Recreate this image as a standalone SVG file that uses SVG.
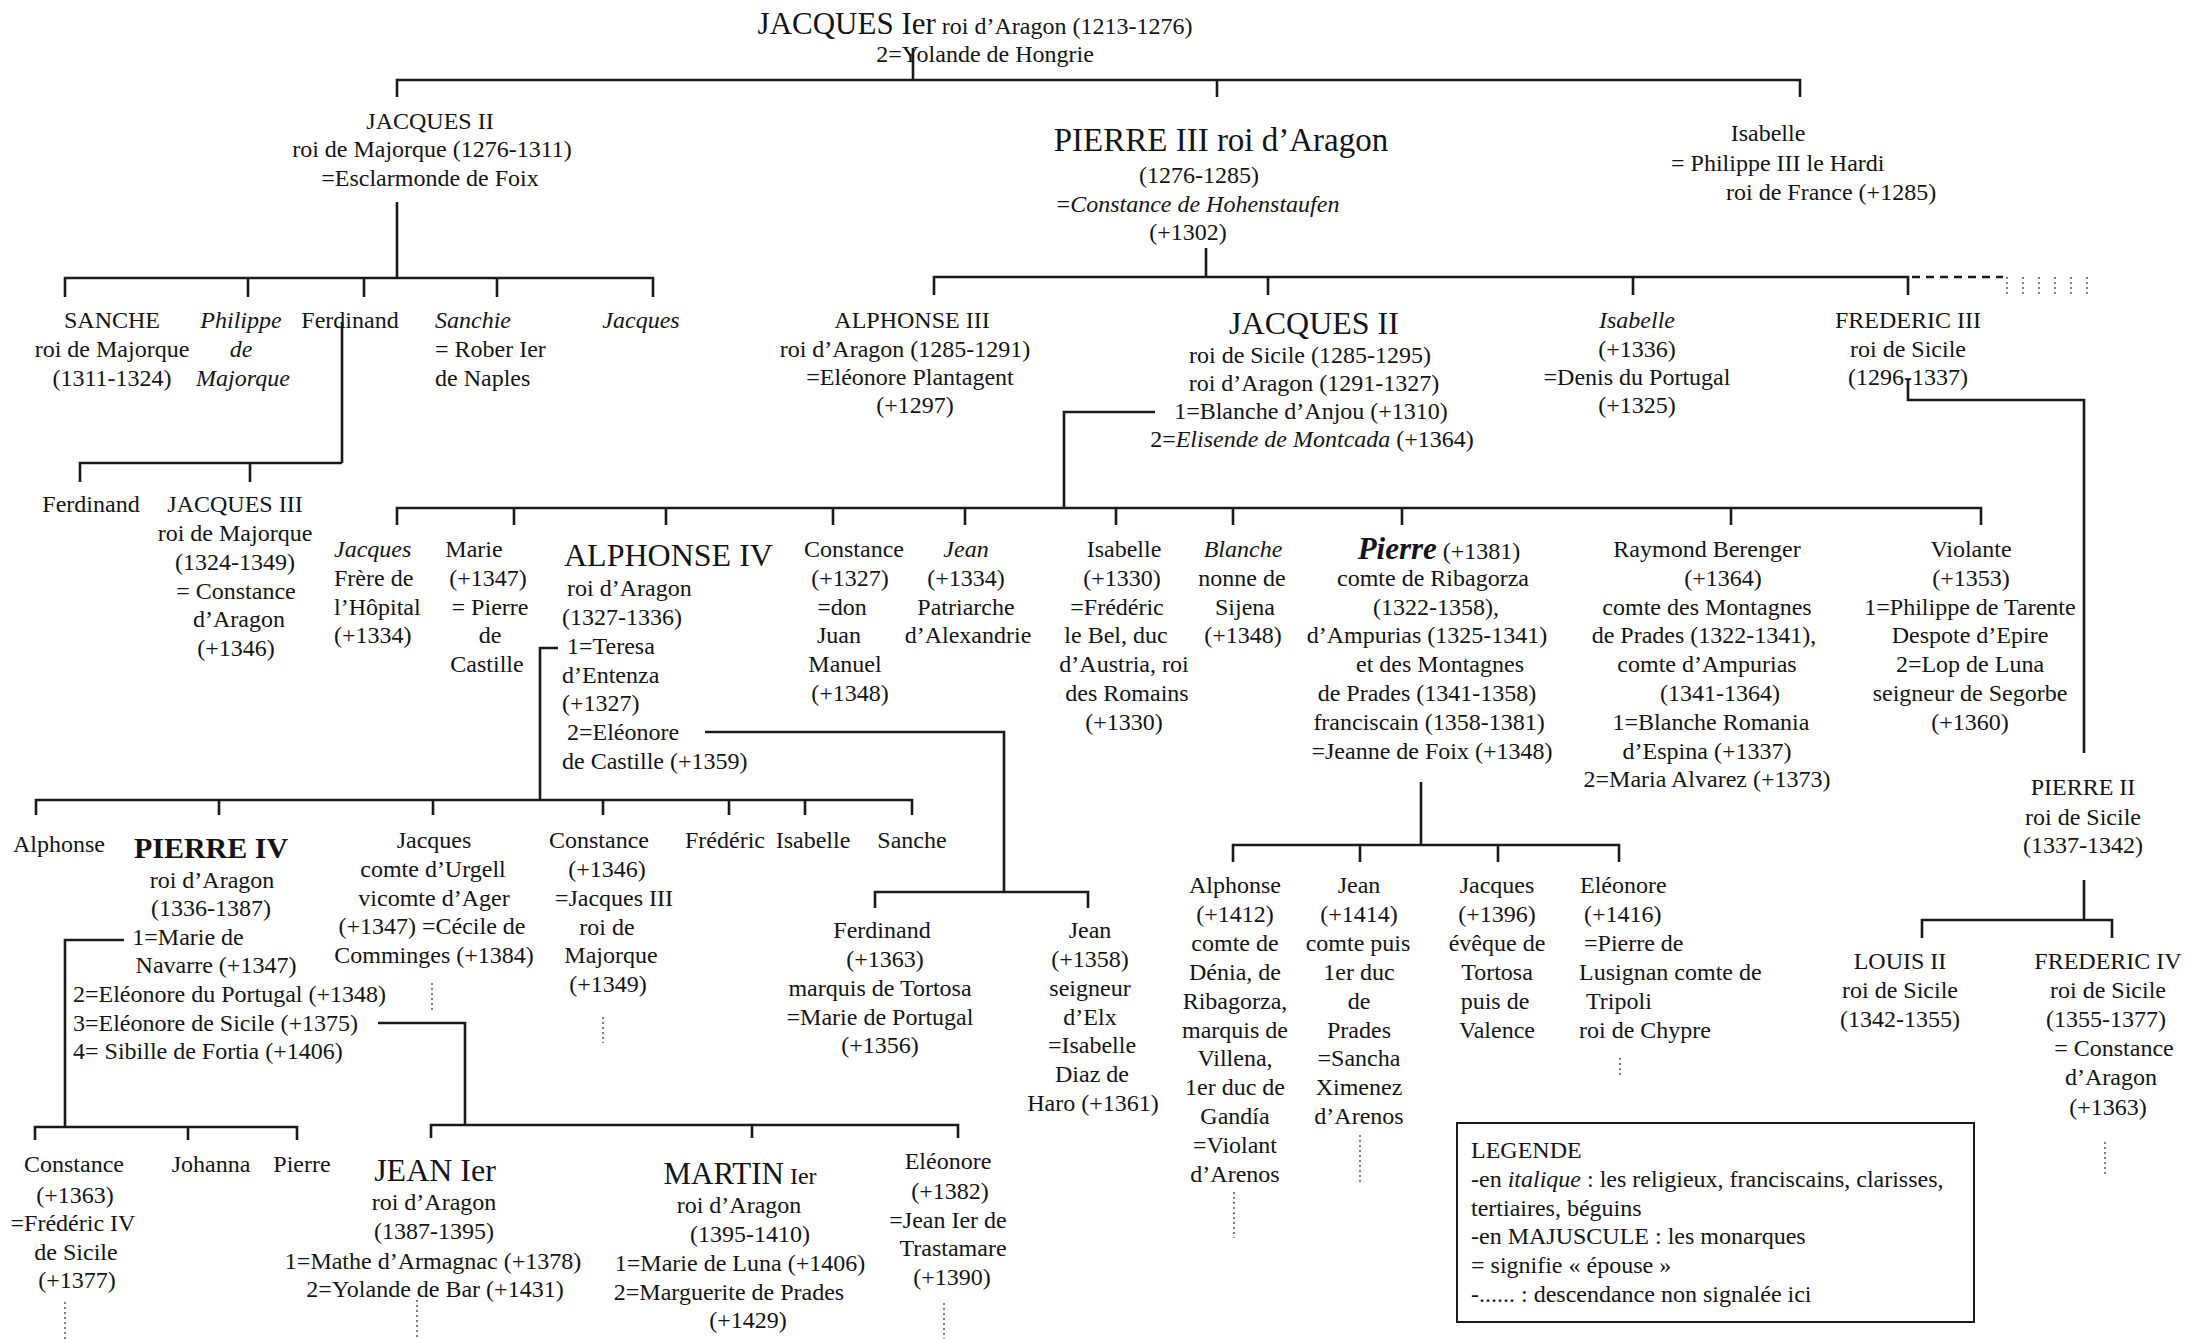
<svg xmlns="http://www.w3.org/2000/svg" width="2193" height="1339" viewBox="0 0 2193 1339">
<style>
.t{font-family:"Liberation Serif","Times New Roman",serif;font-size:24px;fill:#141414}
.m{text-anchor:middle}
.i{font-style:italic}
.big{font-size:32px}
.title{font-size:33px}
.bold30{font-size:30px;font-weight:bold}
.bi{font-style:italic;font-weight:bold;font-size:31px}
.ln{fill:none;stroke:#1a1a1a;stroke-width:2.6}
.dash{fill:none;stroke:#1a1a1a;stroke-width:2.5;stroke-dasharray:8 6}
.dot{fill:none;stroke:#555;stroke-width:1.5;stroke-dasharray:2 3}
</style>
<rect width="2193" height="1339" fill="#fff"/>
<g id="connectors">
<path class="ln" d="M913 48V80 M397 97V80H1800V97 M1217 80V97"/>
<path class="ln" d="M397 202V278 M65 297V278H653V297 M248 278V297 M364 278V297 M497 278V297"/>
<path class="ln" d="M342 322V463 M80 482V463H342 M250 463V482"/>
<path class="ln" d="M1206 248V277 M934 295V277H1908V295 M1268 277V295 M1633 277V295"/>
<path class="dash" d="M1912 277H2003"/>
<path class="dot" d="M2007 277V295 M2023 277V295 M2039 277V295 M2055 277V295 M2071 277V295 M2087 277V295"/>
<path class="ln" d="M1908 380V400H2084V753"/>
<path class="ln" d="M1155 412H1064V508 M397 525V508H1981V525 M514 508V525 M666 508V525 M833 508V525 M965 508V525 M1116 508V525 M1233 508V525 M1402 508V525 M1731 508V525"/>
<path class="ln" d="M558 648H540V800 M36 815V800H912V815 M219 800V815 M433 800V815 M603 800V815 M729 800V815 M805 800V815"/>
<path class="ln" d="M705 732H1004V892 M875 908V892H1088V908"/>
<path class="ln" d="M1421 782V845 M1233 862V845H1619V862 M1360 845V862 M1498 845V862"/>
<path class="ln" d="M124 940H65V1127 M35 1140V1127H297V1140 M188 1127V1140"/>
<path class="ln" d="M378 1023H465V1125 M431 1138V1125H958V1138 M752 1125V1138"/>
<path class="ln" d="M2084 880V920 M1922 938V920H2112V938"/>
<path class="dot" d="M432 983V1010 M603 1017V1043 M65 1302V1339 M417 1300V1339 M944 1303V1339 M1234 1192V1238 M1360 1135V1182 M1620 1058V1077 M2105 1142V1175"/>
</g>

<g id="n-jacques1">
<text class="t m" x="975" y="34"><tspan style="font-size:31px">JACQUES Ier</tspan><tspan style="font-size:24px"> roi d’Aragon (1213-1276)</tspan></text>
<text class="t m" x="985" y="62">2=Yolande de Hongrie</text>
</g>

<g id="n-jacques2-majorque">
<text class="t m" x="430" y="129">JACQUES II</text>
<text class="t m" x="432" y="157">roi de Majorque (1276-1311)</text>
<text class="t m" x="430" y="186">=Esclarmonde de Foix</text>
</g>

<g id="n-pierre3">
<text class="t m title" x="1221" y="151">PIERRE III roi d’Aragon</text>
<text class="t m" x="1199" y="183">(1276-1285)</text>
<text class="t m" x="1198" y="212">=<tspan class="i">Constance de Hohenstaufen</tspan></text>
<text class="t m" x="1188" y="240">(+1302)</text>
</g>

<g id="n-isabelle1">
<text class="t m" x="1768" y="141">Isabelle</text>
<text class="t" x="1671" y="171">= Philippe III le Hardi</text>
<text class="t" x="1726" y="200">roi de France (+1285)</text>
</g>

<g id="n-sanche">
<text class="t m" x="112" y="328">SANCHE</text>
<text class="t m" x="112" y="357">roi de Majorque</text>
<text class="t m" x="112" y="386">(1311-1324)</text>
</g>
<g id="n-philippe">
<text class="t m i" x="241" y="328">Philippe</text>
<text class="t m i" x="241" y="357">de</text>
<text class="t m i" x="243" y="386">Majorque</text>
</g>
<g id="n-ferdinand1">
<text class="t m" x="350" y="328">Ferdinand</text>
</g>
<g id="n-sanchie">
<text class="t i" x="435" y="328">Sanchie</text>
<text class="t" x="435" y="357">= Rober Ier</text>
<text class="t" x="435" y="386">de Naples</text>
</g>
<g id="n-jacques-maj">
<text class="t m i" x="641" y="328">Jacques</text>
</g>

<g id="n-alphonse3">
<text class="t m" x="912" y="328">ALPHONSE III</text>
<text class="t m" x="905" y="357">roi d’Aragon (1285-1291)</text>
<text class="t m" x="910" y="385">=Eléonore Plantagent</text>
<text class="t m" x="915" y="413">(+1297)</text>
</g>

<g id="n-jacques2-sicile">
<text class="t m big" x="1314" y="334">JACQUES II</text>
<text class="t m" x="1310" y="363">roi de Sicile (1285-1295)</text>
<text class="t m" x="1314" y="391">roi d’Aragon (1291-1327)</text>
<text class="t m" x="1311" y="419">1=Blanche d’Anjou (+1310)</text>
<text class="t m" x="1312" y="447">2=<tspan class="i">Elisende de Montcada</tspan> (+1364)</text>
</g>

<g id="n-isabelle2">
<text class="t m i" x="1637" y="328">Isabelle</text>
<text class="t m" x="1637" y="357">(+1336)</text>
<text class="t m" x="1637" y="385">=Denis du Portugal</text>
<text class="t m" x="1637" y="413">(+1325)</text>
</g>

<g id="n-frederic3">
<text class="t m" x="1908" y="328">FREDERIC III</text>
<text class="t m" x="1908" y="357">roi de Sicile</text>
<text class="t m" x="1908" y="385">(1296-1337)</text>
</g>

<g id="n-ferdinand2">
<text class="t m" x="91" y="512">Ferdinand</text>
</g>
<g id="n-jacques3">
<text class="t m" x="235" y="512">JACQUES III</text>
<text class="t m" x="235" y="541">roi de Majorque</text>
<text class="t m" x="235" y="570">(1324-1349)</text>
<text class="t m" x="236" y="599">= Constance</text>
<text class="t m" x="239" y="627">d’Aragon</text>
<text class="t m" x="236" y="656">(+1346)</text>
</g>

<g id="n-jacques-hospital">
<text class="t i" x="334" y="557">Jacques</text>
<text class="t" x="334" y="586">Frère de</text>
<text class="t" x="334" y="615">l’Hôpital</text>
<text class="t" x="334" y="643">(+1334)</text>
</g>
<g id="n-marie">
<text class="t m" x="474" y="557">Marie</text>
<text class="t m" x="488" y="586">(+1347)</text>
<text class="t m" x="490" y="615">= Pierre</text>
<text class="t m" x="490" y="643">de</text>
<text class="t m" x="487" y="672">Castille</text>
</g>
<g id="n-alphonse4">
<text class="t big" x="564" y="566">ALPHONSE IV</text>
<text class="t" x="567" y="596">roi  d’Aragon</text>
<text class="t" x="562" y="625">(1327-1336)</text>
<text class="t" x="567" y="654">1=Teresa</text>
<text class="t" x="562" y="683">d’Entenza</text>
<text class="t" x="562" y="711">(+1327)</text>
<text class="t" x="567" y="740">2=Eléonore</text>
<text class="t" x="562" y="769">de Castille (+1359)</text>
</g>
<g id="n-constance1">
<text class="t m" x="854" y="557">Constance</text>
<text class="t m" x="850" y="586">(+1327)</text>
<text class="t m" x="842" y="615">=don</text>
<text class="t m" x="839" y="643">Juan</text>
<text class="t m" x="845" y="672">Manuel</text>
<text class="t m" x="850" y="701">(+1348)</text>
</g>
<g id="n-jean1">
<text class="t m i" x="966" y="557">Jean</text>
<text class="t m" x="966" y="586">(+1334)</text>
<text class="t m" x="966" y="615">Patriarche</text>
<text class="t m" x="968" y="643">d’Alexandrie</text>
</g>
<g id="n-isabelle3">
<text class="t m" x="1124" y="557">Isabelle</text>
<text class="t m" x="1122" y="586">(+1330)</text>
<text class="t m" x="1117" y="615">=Frédéric</text>
<text class="t m" x="1116" y="643">le Bel, duc</text>
<text class="t m" x="1124" y="672">d’Austria,  roi</text>
<text class="t m" x="1127" y="701">des Romains</text>
<text class="t m" x="1124" y="730">(+1330)</text>
</g>
<g id="n-blanche">
<text class="t m i" x="1243" y="557">Blanche</text>
<text class="t m" x="1242" y="586">nonne de</text>
<text class="t m" x="1245" y="615">Sijena</text>
<text class="t m" x="1243" y="643">(+1348)</text>
</g>
<g id="n-pierre-ribagorza">
<text class="t m" x="1439" y="559"><tspan class="bi">Pierre</tspan> (+1381)</text>
<text class="t m" x="1433" y="586">comte de Ribagorza</text>
<text class="t m" x="1436" y="615">(1322-1358),</text>
<text class="t m" x="1427" y="643">d’Ampurias (1325-1341)</text>
<text class="t m" x="1440" y="672">et des Montagnes</text>
<text class="t m" x="1427" y="701">de Prades (1341-1358)</text>
<text class="t m" x="1429" y="730">franciscain (1358-1381)</text>
<text class="t m" x="1432" y="759">=Jeanne de Foix (+1348)</text>
</g>
<g id="n-raymond">
<text class="t m" x="1707" y="557">Raymond Berenger</text>
<text class="t m" x="1723" y="586">(+1364)</text>
<text class="t m" x="1707" y="615">comte des Montagnes</text>
<text class="t m" x="1704" y="643">de Prades (1322-1341),</text>
<text class="t m" x="1707" y="672">comte d’Ampurias</text>
<text class="t m" x="1720" y="701">(1341-1364)</text>
<text class="t m" x="1711" y="730">1=Blanche Romania</text>
<text class="t m" x="1707" y="759">d’Espina (+1337)</text>
<text class="t m" x="1707" y="787">2=Maria Alvarez (+1373)</text>
</g>
<g id="n-violante">
<text class="t m" x="1971" y="557">Violante</text>
<text class="t m" x="1971" y="586">(+1353)</text>
<text class="t m" x="1970" y="615">1=Philippe de Tarente</text>
<text class="t m" x="1970" y="643">Despote d’Epire</text>
<text class="t m" x="1970" y="672">2=Lop de Luna</text>
<text class="t m" x="1970" y="701">seigneur de Segorbe</text>
<text class="t m" x="1970" y="730">(+1360)</text>
</g>
<g id="n-pierre2">
<text class="t m" x="2083" y="795">PIERRE II</text>
<text class="t m" x="2083" y="825">roi de Sicile</text>
<text class="t m" x="2083" y="853">(1337-1342)</text>
</g>

<g id="n-alphonse-a">
<text class="t m" x="59" y="852">Alphonse</text>
</g>
<g id="n-pierre4">
<text class="t m bold30" x="211" y="858">PIERRE IV</text>
<text class="t m" x="212" y="888">roi d’Aragon</text>
<text class="t m" x="211" y="916">(1336-1387)</text>
<text class="t m" x="188" y="945">1=Marie de</text>
<text class="t m" x="216" y="973">Navarre (+1347)</text>
<text class="t" x="73" y="1002">2=Eléonore du Portugal (+1348)</text>
<text class="t" x="73" y="1031">3=Eléonore de Sicile (+1375)</text>
<text class="t" x="73" y="1059">4= Sibille de Fortia (+1406)</text>
</g>
<g id="n-jacques-urgell">
<text class="t m" x="434" y="848">Jacques</text>
<text class="t m" x="433" y="877">comte d’Urgell</text>
<text class="t m" x="434" y="906">vicomte d’Ager</text>
<text class="t m" x="432" y="934">(+1347) =Cécile de</text>
<text class="t m" x="434" y="963">Comminges (+1384)</text>
</g>
<g id="n-constance2">
<text class="t m" x="599" y="848">Constance</text>
<text class="t m" x="607" y="877">(+1346)</text>
<text class="t m" x="614" y="906">=Jacques III</text>
<text class="t m" x="607" y="935">roi de</text>
<text class="t m" x="611" y="963">Majorque</text>
<text class="t m" x="608" y="992">(+1349)</text>
</g>
<g id="n-frederic-a">
<text class="t m" x="725" y="848">Frédéric</text>
</g>
<g id="n-isabelle-a">
<text class="t m" x="813" y="848">Isabelle</text>
</g>
<g id="n-sanche-a">
<text class="t m" x="912" y="848">Sanche</text>
</g>

<g id="n-ferdinand3">
<text class="t m" x="882" y="938">Ferdinand</text>
<text class="t m" x="885" y="967">(+1363)</text>
<text class="t m" x="880" y="996">marquis de Tortosa</text>
<text class="t m" x="880" y="1025">=Marie de Portugal</text>
<text class="t m" x="880" y="1053">(+1356)</text>
</g>
<g id="n-jean2">
<text class="t m" x="1090" y="938">Jean</text>
<text class="t m" x="1090" y="967">(+1358)</text>
<text class="t m" x="1090" y="996">seigneur</text>
<text class="t m" x="1090" y="1025">d’Elx</text>
<text class="t m" x="1092" y="1053">=Isabelle</text>
<text class="t m" x="1092" y="1082">Diaz de</text>
<text class="t m" x="1093" y="1111">Haro (+1361)</text>
</g>

<g id="n-alphonse-b">
<text class="t m" x="1235" y="893">Alphonse</text>
<text class="t m" x="1235" y="922">(+1412)</text>
<text class="t m" x="1235" y="951">comte de</text>
<text class="t m" x="1235" y="980">Dénia, de</text>
<text class="t m" x="1235" y="1009">Ribagorza,</text>
<text class="t m" x="1235" y="1038">marquis de</text>
<text class="t m" x="1235" y="1066">Villena,</text>
<text class="t m" x="1235" y="1095">1er duc de</text>
<text class="t m" x="1235" y="1124">Gandía</text>
<text class="t m" x="1235" y="1153">=Violant</text>
<text class="t m" x="1235" y="1182">d’Arenos</text>
</g>
<g id="n-jean3">
<text class="t m" x="1359" y="893">Jean</text>
<text class="t m" x="1359" y="922">(+1414)</text>
<text class="t m" x="1358" y="951">comte puis</text>
<text class="t m" x="1359" y="980">1er duc</text>
<text class="t m" x="1359" y="1009">de</text>
<text class="t m" x="1359" y="1038">Prades</text>
<text class="t m" x="1359" y="1066">=Sancha</text>
<text class="t m" x="1359" y="1095">Ximenez</text>
<text class="t m" x="1359" y="1124">d’Arenos</text>
</g>
<g id="n-jacques-tortosa">
<text class="t m" x="1497" y="893">Jacques</text>
<text class="t m" x="1497" y="922">(+1396)</text>
<text class="t m" x="1497" y="951">évêque de</text>
<text class="t m" x="1497" y="980">Tortosa</text>
<text class="t m" x="1495" y="1009">puis de</text>
<text class="t m" x="1497" y="1038">Valence</text>
</g>
<g id="n-eleonore-lusignan">
<text class="t" x="1580" y="893">Eléonore</text>
<text class="t" x="1584" y="922">(+1416)</text>
<text class="t" x="1584" y="951">=Pierre de</text>
<text class="t" x="1579" y="980">Lusignan comte de</text>
<text class="t" x="1586" y="1009">Tripoli</text>
<text class="t" x="1579" y="1038">roi de Chypre</text>
</g>

<g id="n-louis2">
<text class="t m" x="1900" y="969">LOUIS II</text>
<text class="t m" x="1900" y="998">roi de Sicile</text>
<text class="t m" x="1900" y="1027">(1342-1355)</text>
</g>
<g id="n-frederic4">
<text class="t m" x="2108" y="969">FREDERIC IV</text>
<text class="t m" x="2108" y="998">roi de Sicile</text>
<text class="t m" x="2106" y="1027">(1355-1377)</text>
<text class="t m" x="2114" y="1056">= Constance</text>
<text class="t m" x="2111" y="1085">d’Aragon</text>
<text class="t m" x="2108" y="1115">(+1363)</text>
</g>

<g id="n-constance3">
<text class="t m" x="74" y="1172">Constance</text>
<text class="t m" x="75" y="1203">(+1363)</text>
<text class="t m" x="73" y="1231">=Frédéric IV</text>
<text class="t m" x="76" y="1260">de Sicile</text>
<text class="t m" x="77" y="1288">(+1377)</text>
</g>
<g id="n-johanna">
<text class="t m" x="211" y="1172">Johanna</text>
</g>
<g id="n-pierre-b">
<text class="t m" x="302" y="1172">Pierre</text>
</g>
<g id="n-jean1er">
<text class="t m big" x="435" y="1181">JEAN Ier</text>
<text class="t m" x="434" y="1210">roi d’Aragon</text>
<text class="t m" x="434" y="1239">(1387-1395)</text>
<text class="t m" x="433" y="1269">1=Mathe d’Armagnac (+1378)</text>
<text class="t m" x="435" y="1297">2=Yolande de Bar (+1431)</text>
</g>
<g id="n-martin">
<text class="t m" x="740" y="1184"><tspan style="font-size:31px">MARTIN</tspan> Ier</text>
<text class="t m" x="739" y="1213">roi d’Aragon</text>
<text class="t m" x="750" y="1242">(1395-1410)</text>
<text class="t m" x="740" y="1271">1=Marie de Luna (+1406)</text>
<text class="t m" x="729" y="1300">2=Marguerite de Prades</text>
<text class="t m" x="748" y="1328">(+1429)</text>
</g>
<g id="n-eleonore2">
<text class="t m" x="948" y="1169">Eléonore</text>
<text class="t m" x="950" y="1199">(+1382)</text>
<text class="t m" x="948" y="1228">=Jean Ier de</text>
<text class="t m" x="953" y="1256">Trastamare</text>
<text class="t m" x="952" y="1285">(+1390)</text>
</g>

<g id="legend">
<rect x="1457" y="1123" width="517" height="199" fill="none" stroke="#1a1a1a" stroke-width="2"/>
<text class="t" x="1471" y="1158">LEGENDE</text>
<text class="t" x="1471" y="1187">-en <tspan class="i">italique</tspan> : les religieux, franciscains, clarisses,</text>
<text class="t" x="1471" y="1216">tertiaires, béguins</text>
<text class="t" x="1471" y="1244">-en MAJUSCULE : les monarques</text>
<text class="t" x="1471" y="1273">= signifie « épouse »</text>
<text class="t" x="1471" y="1302">-...... : descendance non signalée ici</text>
</g>
</svg>
